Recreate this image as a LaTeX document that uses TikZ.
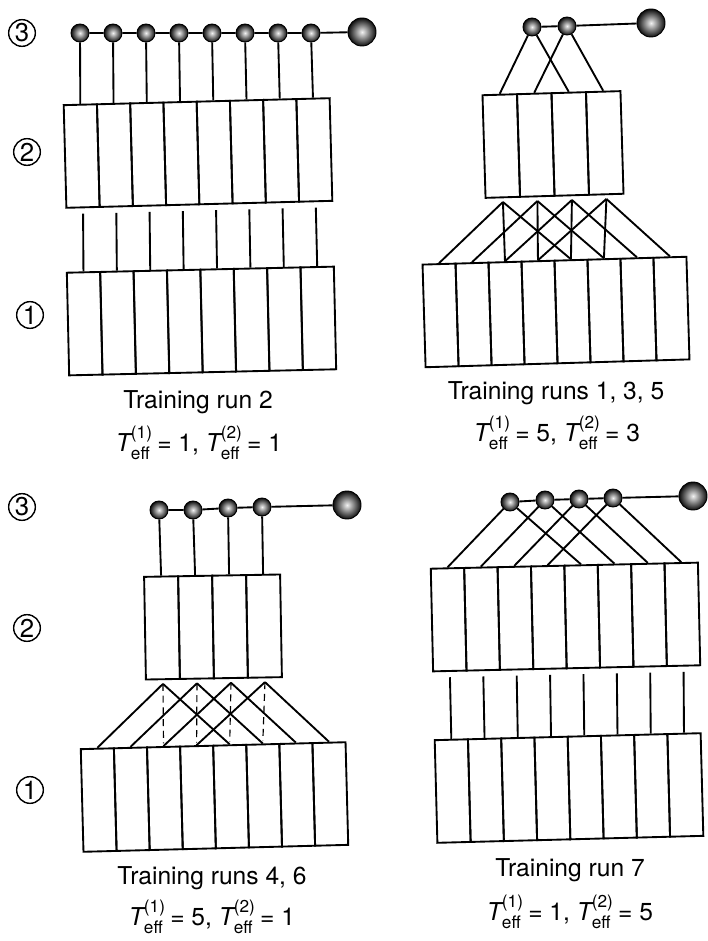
\documentclass[tikz,border=0pt]{standalone}
\usepackage{fontspec}
\setmainfont{TeX Gyre Heros}
\usepackage{amsmath}
\usetikzlibrary{positioning}

\begin{document}
\begin{tikzpicture}[
  x=0.15mm, y=-0.15mm,
  cell/.style={draw, line width=0.8pt, minimum width=4.99mm, minimum height=15.4mm,
               inner sep=0pt, transform shape},
  unit/.style={circle, draw=black, shade, inner color=gray!10, outer color=black!95,
               minimum size=2.7mm, inner sep=0pt},
  outunit/.style={unit, minimum size=4.2mm},
  tag/.style={circle, draw, line width=0.6pt, minimum size=4mm, inner sep=0pt,
              font=\fontsize{11}{12}\selectfont},
  link/.style={line width=0.8pt},
  gap/.style={link, shorten <=0.8mm},
  weak/.style={line width=0.5pt, densely dashed, shorten >=0.4mm},
  lbl/.style={font=\fontsize{10.5}{13}\selectfont},
]
\useasboundingbox (0,0) rectangle (707,941);

%% ---- Training run 2 (top left) ----
\node[tag] (At3) at (22,33) {3};
\node[tag] (At2) at (27,152) {2};
\node[tag] (At1) at (30,315) {1};

\foreach \i in {1,...,8}
  \node[unit] (Ab\i) at ({80+33*(\i-1)},33) {};
\node[outunit] (Aout) at (362,32) {};
\draw[link] (Ab1) -- (Ab2) -- (Ab3) -- (Ab4) -- (Ab5) -- (Ab6) -- (Ab7) -- (Ab8) -- (Aout);

\begin{scope}[shift={(198,153)}, rotate=1.5]
  \foreach \i in {1,...,8} \node[cell] (A2c\i) at ({(\i-4.5)*33.25},0) {};
\end{scope}
\begin{scope}[shift={(201.5,321)}, rotate=1.3]
  \foreach \i in {1,...,8} \node[cell] (A1c\i) at ({(\i-4.5)*33.4},0) {};
\end{scope}

\foreach \i in {1,...,8} \draw[link] (Ab\i) -- (A2c\i.north);
\foreach \i in {1,...,8} \draw[gap] (A2c\i.south) -- (A1c\i.north);

\node[lbl] (Arun) at (198,402) {Training run 2};
\node[lbl] (Ateff) at (199,443)
  {{\itshape T}$^{\text{(1)}}_{\text{eff}}$\,= 1, {\itshape T}$^{\text{(2)}}_{\text{eff}}$\,= 1};

%% ---- Training runs 1, 3, 5 (top right) ----
\node[unit] (Bb1) at (532,27) {};
\node[unit] (Bb2) at (567,26) {};
\node[outunit] (Bout) at (651,23) {};
\draw[link] (Bb1) -- (Bb2) -- (Bout);

\begin{scope}[shift={(553,144.5)}, rotate=1.7]
  \foreach \i in {1,...,4} {
    \node[cell, minimum width=5.18mm] (B2c\i) at ({(\i-2.5)*34.5},0) {};
    \coordinate (B2a\i) at ({(\i-2.5)*34.5},56);
  }
\end{scope}
\begin{scope}[shift={(556,312)}, rotate=1.7]
  \foreach \i in {1,...,8} \node[cell, minimum width=4.95mm] (B1c\i) at ({(\i-4.5)*33},0) {};
\end{scope}

\foreach \b/\c in {1/1,1/3,2/2,2/4} \draw[link] (Bb\b) -- (B2c\c.north);
\foreach \b/\c in {1/1,1/3,1/5,2/2,2/4,2/6,3/3,3/5,3/7,4/4,4/6,4/8}
  \draw[link] (B2a\b) -- (B1c\c.north);

\node[lbl] (Brun) at (556,393) {Training runs 1, 3, 5};
\node[lbl] (Bteff) at (557,433)
  {{\itshape T}$^{\text{(1)}}_{\text{eff}}$\,= 5, {\itshape T}$^{\text{(2)}}_{\text{eff}}$\,= 3};

%% ---- Training runs 4, 6 (bottom left) ----
\node[tag] (Ct3) at (22,507) {3};
\node[tag] (Ct2) at (27,628) {2};
\node[tag] (Ct1) at (30,790) {1};

\node[unit] (Cb1) at (159,510) {};
\node[unit] (Cb2) at (193,510) {};
\node[unit] (Cb3) at (228,508) {};
\node[unit] (Cb4) at (262,507) {};
\node[outunit] (Cout) at (347,505) {};
\draw[link] (Cb1) -- (Cb2) -- (Cb3) -- (Cb4) -- (Cout);

\begin{scope}[shift={(213,627)}, rotate=1]
  \foreach \i in {1,...,4} {
    \node[cell, minimum width=5.1mm] (C2c\i) at ({(\i-2.5)*34},0) {};
    \coordinate (C2a\i) at ({(\i-2.5)*34},56);
  }
\end{scope}
\begin{scope}[shift={(214.5,797)}, rotate=1.5]
  \foreach \i in {1,...,8} \node[cell, minimum width=4.97mm] (C1c\i) at ({(\i-4.5)*33.1},0) {};
\end{scope}

\foreach \i in {1,...,4} \draw[link] (Cb\i) -- (C2c\i.north);
\foreach \b/\c in {1/1,1/5,2/2,2/6,3/3,3/7,4/4,4/8}
  \draw[link] (C2a\b) -- (C1c\c.north);
\foreach \b/\c in {1/3,2/4,3/5,4/6}
  \draw[weak] (C2a\b) -- (C1c\c.north);

\node[lbl] (Crun) at (212,878) {Training runs 4, 6};
\node[lbl] (Cteff) at (212,917)
  {{\itshape T}$^{\text{(1)}}_{\text{eff}}$\,= 5, {\itshape T}$^{\text{(2)}}_{\text{eff}}$\,= 1};

%% ---- Training run 7 (bottom right) ----
\node[unit] (Db1) at (510,502) {};
\node[unit] (Db2) at (545,500) {};
\node[unit] (Db3) at (579,499) {};
\node[unit] (Db4) at (613,498) {};
\node[outunit] (Dout) at (693,496) {};
\draw[link] (Db1) -- (Db2) -- (Db3) -- (Db4) -- (Dout);

\begin{scope}[shift={(565.5,617)}, rotate=1.3]
  \foreach \i in {1,...,8} \node[cell, minimum width=5.01mm] (D2c\i) at ({(\i-4.5)*33.4},0) {};
\end{scope}
\begin{scope}[shift={(569,788)}, rotate=1.5]
  \foreach \i in {1,...,8} \node[cell] (D1c\i) at ({(\i-4.5)*33.25},0) {};
\end{scope}

\foreach \b/\c in {1/1,1/5,2/2,2/6,3/3,3/7,4/4,4/8} \draw[link] (Db\b) -- (D2c\c.north);
\foreach \i in {1,...,8} \draw[gap] (D2c\i.south) -- (D1c\i.north);

\node[lbl] (Drun) at (570,870) {Training run 7};
\node[lbl] (Dteff) at (570,912)
  {{\itshape T}$^{\text{(1)}}_{\text{eff}}$\,= 1, {\itshape T}$^{\text{(2)}}_{\text{eff}}$\,= 5};

\end{tikzpicture}
\end{document}
